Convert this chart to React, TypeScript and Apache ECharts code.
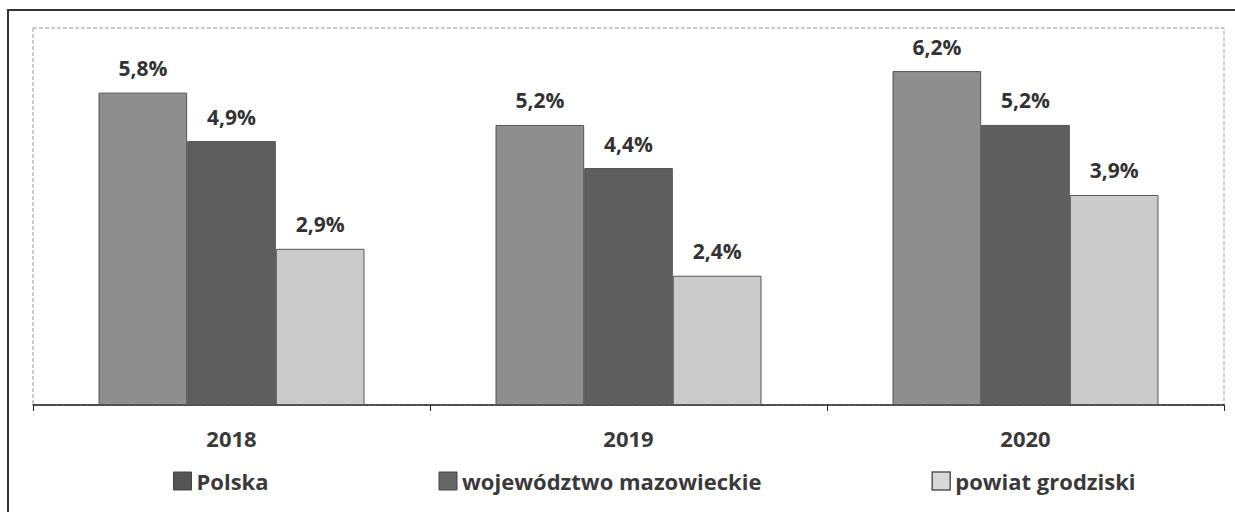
import React, { useEffect, useRef } from "react";
import * as echarts from "echarts";

const categories = ["2018", "2019", "2020"];
const seriesNames = ["Polska", "województwo mazowieckie", "powiat grodziski"];
const polska = [5.8, 5.2, 6.2];
const mazowieckie = [4.9, 4.4, 5.2];
const grodziski = [2.9, 2.4, 3.9];

const fmt = (v: number) => v.toFixed(1).replace(".", ",") + "%";

export default function App() {
  const ref = useRef<HTMLDivElement>(null);
  useEffect(() => {
    if (!ref.current) return;
    const chart = echarts.init(ref.current, undefined, { renderer: "svg" });
    const font = "'Open Sans', 'DejaVu Sans', sans-serif";
    const label = {
      show: true,
      position: "top",
      distance: 14,
      formatter: (p: any) => fmt(p.value),
      fontFamily: font,
      fontWeight: "bold",
      fontSize: 21,
      color: "#333",
    };
    const mk = (name: string, data: number[], color: string) => ({
      name,
      type: "bar",
      data,
      barGap: "0%",
      barCategoryGap: "33%",
      itemStyle: { color, borderColor: "#555", borderWidth: 1 },
      label,
    });
    chart.setOption({
      animation: false,
      backgroundColor: "#fff",
      graphic: [
        {
          type: "rect",
          shape: { x: 8, y: 10, width: 1240, height: 520 },
          style: { fill: "none", stroke: "#333", lineWidth: 2 },
          silent: true,
        },
      ],
      grid: {
        left: 33,
        right: 11,
        top: 28,
        bottom: 107,
        show: true,
        borderColor: "#999",
        borderWidth: 1,
        borderType: "dashed",
      } as any,
      legend: {
        bottom: 15,
        left: 168,
        itemGap: 170,
        itemWidth: 18,
        itemHeight: 18,
        icon: "rect",
        textStyle: { fontFamily: font, fontWeight: "bold", fontSize: 22, color: "#3a3a3a" },
        data: [
          { name: seriesNames[0], itemStyle: { color: "#555", borderColor: "#444", borderWidth: 1 } },
          { name: seriesNames[1], itemStyle: { color: "#666", borderColor: "#444", borderWidth: 1 } },
          { name: seriesNames[2], itemStyle: { color: "#d8d8d8", borderColor: "#555", borderWidth: 1.5 } },
        ],
      },
      xAxis: {
        type: "category",
        data: categories,
        axisLine: { lineStyle: { color: "#222", width: 1.5 } },
        axisTick: { show: true, length: 6, lineStyle: { color: "#222" } },
        axisLabel: { fontFamily: font, fontWeight: "bold", fontSize: 22, color: "#3a3a3a", margin: 22 },
      },
      yAxis: {
        type: "value",
        min: 0,
        max: 7,
        show: false,
        splitLine: { show: false },
      },
      series: [
        mk(seriesNames[0], polska, "#8e8e8e"),
        mk(seriesNames[1], mazowieckie, "#5e5e5e"),
        mk(seriesNames[2], grodziski, "#cbcbcb"),
      ],
    });
    return () => chart.dispose();
  }, []);
  return (
    <div
      ref={ref}
      style={{ position: "fixed", left: 0, top: 0, width: 1235, height: 512 }}
    />
  );
}
